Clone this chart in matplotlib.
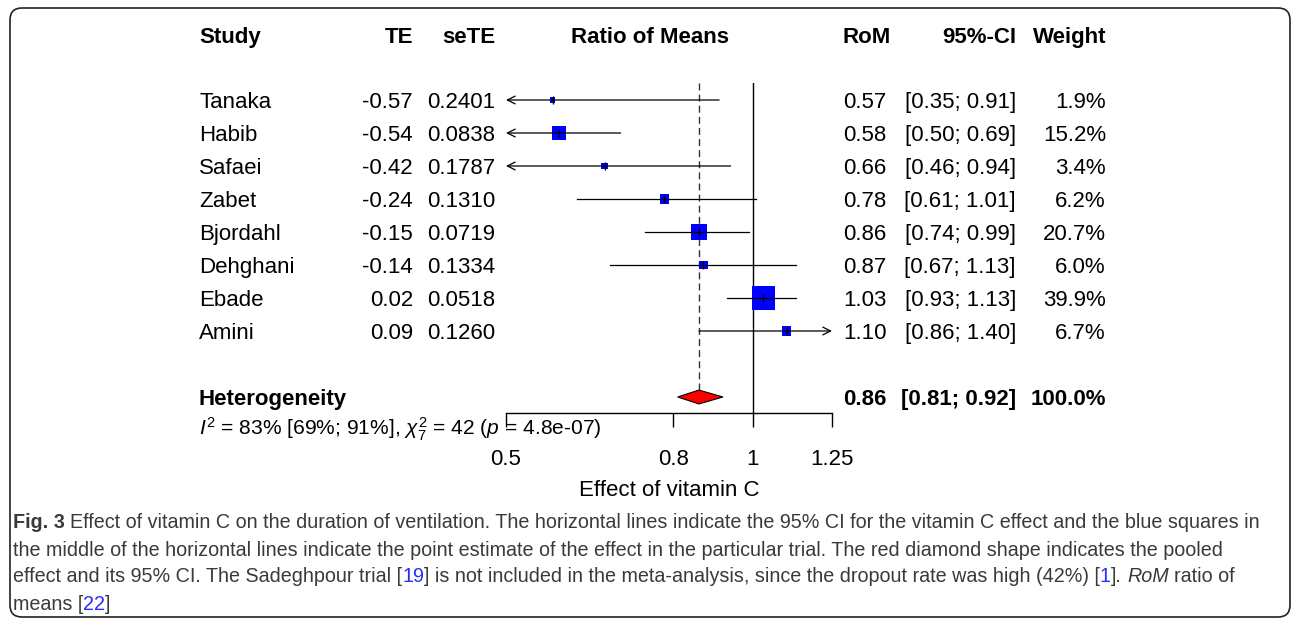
import matplotlib
matplotlib.use('Agg')
import matplotlib.pyplot as plt
import matplotlib.transforms as mtransforms
from matplotlib.patches import FancyBboxPatch, Polygon
from matplotlib.ticker import NullLocator
from matplotlib import font_manager

plt.rcParams['font.family'] = 'Liberation Sans'
plt.rcParams['mathtext.fontset'] = 'custom'
plt.rcParams['mathtext.rm'] = 'Liberation Sans'
plt.rcParams['mathtext.it'] = 'Liberation Sans:italic'
plt.rcParams['mathtext.bf'] = 'Liberation Sans:bold'

# data
studies = ['Tanaka', 'Habib', 'Safaei', 'Zabet', 'Bjordahl', 'Dehghani', 'Ebade', 'Amini']
te = ['-0.57', '-0.54', '-0.42', '-0.24', '-0.15', '-0.14', '0.02', '0.09']
sete = ['0.2401', '0.0838', '0.1787', '0.1310', '0.0719', '0.1334', '0.0518', '0.1260']
rom = [0.57, 0.58, 0.66, 0.78, 0.86, 0.87, 1.03, 1.10]
ci_lo = [0.35, 0.50, 0.46, 0.61, 0.74, 0.67, 0.93, 0.86]
ci_hi = [0.91, 0.69, 0.94, 1.01, 0.99, 1.13, 1.13, 1.40]
weight = [1.9, 15.2, 3.4, 6.2, 20.7, 6.0, 39.9, 6.7]

pooled = 0.86
pooled_lo = 0.81
pooled_hi = 0.92
het_text = r'$I^2$ = 83% [69%; 91%], $\chi^2_7$ = 42 ($p$ = 4.8e-07)'

xticks = [0.5, 0.8, 1, 1.25]
xtick_labels = ['0.5', '0.8', '1', '1.25']
xmin, xmax = 0.5, 1.25

W, H = 1292, 620
FS = 16
ROW = 33.0  # pixels per row

fig = plt.figure(figsize=(W / 100, H / 100), dpi=100)

# pixel canvas for the frame, columns and caption
canvas = fig.add_axes([0, 0, 1, 1])
canvas.set_xlim(0, W)
canvas.set_ylim(H, 0)
canvas.axis('off')

# forest axes: log scale, rows 0..7 studies, row 9 pooled
ax = fig.add_axes([506 / W, 1 - 413 / H, 326 / W, 330 / H])
ax.set_xscale('log')
ax.set_xlim(xmin, xmax)
ax.set_ylim(9.485, -0.515)
ax.patch.set_alpha(0)
for s in ['top', 'left', 'right']:
    ax.spines[s].set_visible(False)
ax.spines['bottom'].set_linewidth(1.0)
ax.set_yticks([])
ax.set_xticks(xticks)
ax.set_xticklabels(xtick_labels)
ax.xaxis.set_minor_locator(NullLocator())
ax.tick_params(axis='x', length=10, width=1.0, pad=16, labelsize=FS)
ax.set_xlabel('Effect of vitamin C', fontsize=FS, labelpad=7)

ax.axvline(1, color='black', lw=1.0)
ax.plot([pooled, pooled], [-0.515, 9.2], color='#333333', lw=1.0, ls=(0, (5, 3)))

for i in range(len(studies)):
    lo = max(ci_lo[i], xmin)
    hi = min(ci_hi[i], xmax)
    ax.scatter(rom[i], i, s=weight[i] * 6.9, marker='s', color='#0000ff',
               edgecolors='none', zorder=3)
    if ci_lo[i] <= xmin:
        ax.annotate('', xy=(xmin, i), xytext=(hi, i),
                    arrowprops=dict(arrowstyle='->', lw=0.9, color='black',
                                    shrinkA=0, shrinkB=0, mutation_scale=14), zorder=4)
    elif ci_hi[i] >= xmax:
        ax.annotate('', xy=(xmax, i), xytext=(lo, i),
                    arrowprops=dict(arrowstyle='->', lw=0.9, color='black',
                                    shrinkA=0, shrinkB=0, mutation_scale=14), zorder=4)
    else:
        ax.plot([lo, hi], [i, i], color='black', lw=0.9, zorder=4)
    ax.plot(rom[i], i, marker='|', color='black', ms=6, mew=1.0, zorder=5)

dh = 0.21
ax.add_patch(Polygon([(pooled_lo, 9), (pooled, 9 - dh), (pooled_hi, 9), (pooled, 9 + dh)],
                     closed=True, facecolor='#ff0000', edgecolor='black', lw=0.8, zorder=3))

# text columns: x in pixels, y in row units
tr = mtransforms.blended_transform_factory(canvas.transData, ax.transData)
dy = 3 / ROW
hdr = -2 + 4 / ROW
kw = dict(transform=tr, fontsize=FS, va='center')
canvas.text(199, hdr, 'Study', ha='left', fontweight='bold', **kw)
canvas.text(413, hdr, 'TE', ha='right', fontweight='bold', **kw)
canvas.text(495, hdr, 'seTE', ha='right', fontweight='bold', **kw)
canvas.text(650, hdr, 'Ratio of Means', ha='center', fontweight='bold', **kw)
canvas.text(843, hdr, 'RoM', ha='left', fontweight='bold', **kw)
canvas.text(1016, hdr, '95%-CI', ha='right', fontweight='bold', **kw)
canvas.text(1106, hdr, 'Weight', ha='right', fontweight='bold', **kw)

for i in range(len(studies)):
    y = i + dy
    canvas.text(199, y, studies[i], ha='left', **kw)
    canvas.text(413, y, te[i], ha='right', **kw)
    canvas.text(495, y, sete[i], ha='right', **kw)
    canvas.text(843, y, f'{rom[i]:.2f}', ha='left', **kw)
    canvas.text(1016, y, f'[{ci_lo[i]:.2f}; {ci_hi[i]:.2f}]', ha='right', **kw)
    canvas.text(1106, y, f'{weight[i]:.1f}%', ha='right', **kw)

yp = 9 + dy
canvas.text(199, yp, 'Heterogeneity', ha='left', fontweight='bold', **kw)
canvas.text(843, yp, f'{pooled:.2f}', ha='left', fontweight='bold', **kw)
canvas.text(1016, yp, f'[{pooled_lo:.2f}; {pooled_hi:.2f}]', ha='right', fontweight='bold', **kw)
canvas.text(1106, yp, '100.0%', ha='right', fontweight='bold', **kw)
canvas.text(199, 9.91 + 2 / ROW, het_text, ha='left', transform=tr, fontsize=15.1, va='center')

# frame
canvas.add_patch(FancyBboxPatch((10, 8), 1280, 609, boxstyle='round,pad=0,rounding_size=12',
                                fill=False, edgecolor='#222222', lw=1.2, clip_on=False))


# caption
def has_font(name):
    try:
        font_manager.findfont(font_manager.FontProperties(family=name), fallback_to_default=False)
        return True
    except ValueError:
        return False


cap_family = 'Liberation Sans Narrow' if has_font('Liberation Sans Narrow') else 'Liberation Sans'
renderer = fig.canvas.get_renderer()


def text_w(s, **props):
    t1 = canvas.text(0, 0, '|' + s + '|', **props)
    t2 = canvas.text(0, 0, '||', **props)
    w = t1.get_window_extent(renderer).width - t2.get_window_extent(renderer).width
    t1.remove()
    t2.remove()
    return w


grey = '#3a3a3a'
link = '#2b2bff'
cap_lines = [
    [('Fig. 3', 'bold', 'normal', grey),
     (' Effect of vitamin C on the duration of ventilation. The horizontal lines indicate the 95% CI '
      'for the vitamin C effect and the blue squares in', 'normal', 'normal', grey)],
    [('the middle of the horizontal lines indicate the point estimate of the effect in the particular '
      'trial. The red diamond shape indicates the pooled', 'normal', 'normal', grey)],
    [('effect and its 95% CI. The Sadeghpour trial [', 'normal', 'normal', grey),
     ('19', 'normal', 'normal', link),
     ('] is not included in the meta-analysis, since the dropout rate was high (42%) [', 'normal', 'normal', grey),
     ('1', 'normal', 'normal', link),
     ('].', 'normal', 'normal', grey),
     (' RoM', 'normal', 'italic', grey),
     (' ratio of', 'normal', 'normal', grey)],
    [('means [', 'normal', 'normal', grey), ('22', 'normal', 'normal', link), (']', 'normal', 'normal', grey)],
]
cap_y = [523, 550, 577, 604]

# size the caption so the first line spans the same width as in the figure
w10 = sum(text_w(s, family=cap_family, fontsize=10, fontweight=fw, fontstyle=fs)
          for s, fw, fs, c in cap_lines[0])
cap_fs = 10 * (1265 - 13) / w10

for line, y in zip(cap_lines, cap_y):
    x = 13
    for s, fw, fs, c in line:
        props = dict(family=cap_family, fontsize=cap_fs, fontweight=fw, fontstyle=fs)
        body = s.lstrip()
        x0 = x + (text_w(s[:len(s) - len(body)], **props) if body != s else 0)
        canvas.text(x0, y, body, color=c, va='center', ha='left', **props)
        x += text_w(s, **props)

fig.savefig('out.png', dpi=100)
